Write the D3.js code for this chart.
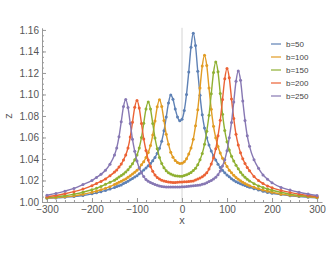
<!DOCTYPE html>
<html>
<head>
<meta charset="utf-8">
<script src="https://cdn.jsdelivr.net/npm/d3@7"></script>
<style>
  body { margin: 0; background: #fff; }
  text { font-family: "Liberation Sans", Arial, sans-serif; }
</style>
</head>
<body>
<svg id="chart" width="329" height="255"></svg>
<script>
// sample positions shared by all curves
var xs = [-300, -280, -260, -240, -220, -200, -190, -180, -170, -160,
  -150, -145, -140, -135, -130, -125, -120, -115, -110, -105,
  -100, -95, -90, -85, -80, -75, -70, -65, -60, -55,
  -50, -45, -40, -35, -30, -25, -20, -15, -10, -5,
  0, 5, 10, 15, 20, 25, 30, 35, 40, 45,
  50, 55, 60, 65, 70, 75, 80, 85, 90, 95,
  100, 105, 110, 115, 120, 125, 130, 135, 140, 145,
  150, 160, 170, 180, 190, 200, 220, 240, 260, 280, 300];

var zB50 = [1.0034, 1.0038, 1.0044, 1.0051, 1.0061, 1.0076, 1.0085, 1.0096, 1.0108, 1.0120,
  1.0134, 1.0143, 1.0151, 1.0159, 1.0171, 1.0182, 1.0193, 1.0207, 1.0219, 1.0232,
  1.0245, 1.0262, 1.0279, 1.0298, 1.0316, 1.0338, 1.0358, 1.0384, 1.0414, 1.0453,
  1.0499, 1.0566, 1.0663, 1.0790, 1.0921, 1.0995, 1.0955, 1.0865, 1.0790, 1.0755,
  1.0770, 1.0850, 1.1000, 1.1210, 1.1440, 1.1570, 1.1455, 1.1215, 1.0992, 1.0812,
  1.0689, 1.0598, 1.0529, 1.0474, 1.0429, 1.0391, 1.0351, 1.0321, 1.0295, 1.0271,
  1.0251, 1.0234, 1.0216, 1.0202, 1.0189, 1.0179, 1.0169, 1.0160, 1.0153, 1.0145,
  1.0137, 1.0124, 1.0112, 1.0100, 1.0089, 1.0081, 1.0069, 1.0058, 1.0051, 1.0044, 1.0039];

var zB100 = [1.0037, 1.0042, 1.0048, 1.0057, 1.0072, 1.0091, 1.0101, 1.0114, 1.0127, 1.0142,
  1.0163, 1.0173, 1.0183, 1.0194, 1.0204, 1.0215, 1.0230, 1.0245, 1.0260, 1.0276,
  1.0296, 1.0316, 1.0347, 1.0375, 1.0414, 1.0461, 1.0525, 1.0622, 1.0753, 1.0885,
  1.0950, 1.0887, 1.0757, 1.0630, 1.0538, 1.0462, 1.0416, 1.0387, 1.0367, 1.0359,
  1.0361, 1.0375, 1.0402, 1.0446, 1.0502, 1.0584, 1.0708, 1.0858, 1.1060, 1.1264,
  1.1364, 1.1270, 1.1059, 1.0862, 1.0704, 1.0597, 1.0516, 1.0455, 1.0407, 1.0365,
  1.0330, 1.0296, 1.0271, 1.0248, 1.0229, 1.0212, 1.0197, 1.0183, 1.0171, 1.0161,
  1.0152, 1.0137, 1.0123, 1.0111, 1.0101, 1.0091, 1.0073, 1.0062, 1.0055, 1.0049, 1.0042];

var zB150 = [1.0042, 1.0048, 1.0058, 1.0073, 1.0091, 1.0114, 1.0127, 1.0145, 1.0164, 1.0183,
  1.0203, 1.0217, 1.0232, 1.0246, 1.0261, 1.0280, 1.0299, 1.0327, 1.0355, 1.0392,
  1.0438, 1.0502, 1.0600, 1.0733, 1.0866, 1.0931, 1.0865, 1.0731, 1.0595, 1.0496,
  1.0414, 1.0358, 1.0319, 1.0291, 1.0271, 1.0260, 1.0251, 1.0243, 1.0241, 1.0240,
  1.0239, 1.0246, 1.0253, 1.0262, 1.0275, 1.0292, 1.0313, 1.0346, 1.0392, 1.0452,
  1.0536, 1.0659, 1.0807, 1.1006, 1.1204, 1.1302, 1.1211, 1.1008, 1.0817, 1.0664,
  1.0561, 1.0484, 1.0426, 1.0381, 1.0342, 1.0309, 1.0276, 1.0252, 1.0231, 1.0212,
  1.0196, 1.0170, 1.0149, 1.0134, 1.0121, 1.0109, 1.0090, 1.0073, 1.0061, 1.0054, 1.0047];

var zB200 = [1.0049, 1.0060, 1.0077, 1.0096, 1.0120, 1.0152, 1.0172, 1.0191, 1.0215, 1.0244,
  1.0278, 1.0297, 1.0325, 1.0353, 1.0391, 1.0437, 1.0502, 1.0604, 1.0741, 1.0880,
  1.0945, 1.0874, 1.0731, 1.0587, 1.0479, 1.0391, 1.0330, 1.0286, 1.0252, 1.0228,
  1.0213, 1.0203, 1.0196, 1.0191, 1.0186, 1.0183, 1.0182, 1.0182, 1.0183, 1.0185,
  1.0187, 1.0188, 1.0189, 1.0191, 1.0193, 1.0196, 1.0205, 1.0213, 1.0223, 1.0235,
  1.0250, 1.0272, 1.0306, 1.0353, 1.0412, 1.0495, 1.0615, 1.0760, 1.0953, 1.1146,
  1.1241, 1.1155, 1.0959, 1.0776, 1.0629, 1.0531, 1.0457, 1.0402, 1.0358, 1.0322,
  1.0291, 1.0237, 1.0199, 1.0172, 1.0149, 1.0132, 1.0108, 1.0089, 1.0073, 1.0060, 1.0052];

var zB250 = [1.0063, 1.0080, 1.0101, 1.0126, 1.0162, 1.0200, 1.0229, 1.0257, 1.0295, 1.0352,
  1.0437, 1.0503, 1.0606, 1.0746, 1.0887, 1.0953, 1.0879, 1.0731, 1.0583, 1.0473,
  1.0381, 1.0317, 1.0272, 1.0236, 1.0210, 1.0193, 1.0181, 1.0171, 1.0163, 1.0156,
  1.0149, 1.0145, 1.0142, 1.0140, 1.0140, 1.0140, 1.0139, 1.0139, 1.0139, 1.0140,
  1.0141, 1.0142, 1.0143, 1.0146, 1.0148, 1.0151, 1.0153, 1.0155, 1.0158, 1.0164,
  1.0169, 1.0179, 1.0190, 1.0200, 1.0214, 1.0231, 1.0254, 1.0288, 1.0335, 1.0394,
  1.0477, 1.0597, 1.0740, 1.0931, 1.1122, 1.1218, 1.1133, 1.0940, 1.0759, 1.0615,
  1.0518, 1.0392, 1.0313, 1.0252, 1.0211, 1.0179, 1.0136, 1.0111, 1.0091, 1.0074, 1.0060];

var seriesNames = ["b=50", "b=100", "b=150", "b=200", "b=250"];
var seriesValues = [zB50, zB100, zB150, zB200, zB250];
var seriesColors = ["#5e81b5", "#e19c24", "#8fb032", "#eb6235", "#8778b3"];

var xTicks = [-300, -200, -100, 0, 100, 200, 300];
var yTicks = [1.00, 1.02, 1.04, 1.06, 1.08, 1.10, 1.12, 1.14, 1.16];

var svg = d3.select("#chart");

var x = d3.scaleLinear().domain([-311, 311]).range([42, 322]);
var y = d3.scaleLinear().domain([1.0, 1.162]).range([202, 27.8]);

// faint axis through x = 0
svg.append("line")
  .attr("x1", x(0)).attr("x2", x(0))
  .attr("y1", y.range()[1]).attr("y2", y.range()[0])
  .attr("stroke", "#d4d4d4").attr("stroke-width", 1);

// minor ticks
var xMinor = d3.range(-300, 301, 20);
var yMinor = d3.range(0, 33).map(function (i) { return 1 + i * 0.005; });

svg.append("g")
  .attr("transform", "translate(0,202)")
  .call(d3.axisBottom(x).tickValues(xMinor).tickSize(-2).tickFormat(""))
  .call(function (g) { g.select(".domain").remove(); })
  .selectAll("line").attr("stroke", "#999");

svg.append("g")
  .attr("transform", "translate(42,0)")
  .call(d3.axisLeft(y).tickValues(yMinor).tickSize(-2).tickFormat(""))
  .call(function (g) { g.select(".domain").remove(); })
  .selectAll("line").attr("stroke", "#999");

// major ticks + labels
var xAxis = svg.append("g")
  .attr("transform", "translate(0,202)")
  .call(d3.axisBottom(x).tickValues(xTicks).tickSizeInner(-4).tickSizeOuter(0).tickPadding(4)
    .tickFormat(function (d) { return d < 0 ? "\u2212" + Math.abs(d) : d; }));

var yAxis = svg.append("g")
  .attr("transform", "translate(42,0)")
  .call(d3.axisLeft(y).tickValues(yTicks).tickSizeInner(-4).tickSizeOuter(0).tickPadding(3)
    .tickFormat(d3.format(".2f")));

[xAxis, yAxis].forEach(function (g) {
  g.select(".domain").attr("stroke", "#999");
  g.selectAll(".tick line").attr("stroke", "#999");
  g.selectAll("text").attr("fill", "#555").style("font-size", "10px")
    .style("font-family", "'Liberation Sans', Arial, sans-serif");
});

// curves
var line = d3.line()
  .x(function (d) { return x(d[0]); })
  .y(function (d) { return y(d[1]); })
  .curve(d3.curveMonotoneX);

seriesValues.forEach(function (vals, i) {
  var pts = xs.map(function (xv, j) { return [xv, vals[j]]; });
  var g = svg.append("g");
  g.append("path")
    .attr("d", line(pts))
    .attr("fill", "none")
    .attr("stroke", seriesColors[i])
    .attr("stroke-width", 1.4);
  g.selectAll("circle")
    .data(pts)
    .enter().append("circle")
    .attr("cx", function (d) { return x(d[0]); })
    .attr("cy", function (d) { return y(d[1]); })
    .attr("r", 1.5)
    .attr("fill", seriesColors[i]);
});

// axis titles
svg.append("text")
  .attr("x", x(0)).attr("y", 224)
  .attr("text-anchor", "middle")
  .attr("fill", "#555").style("font-size", "11px")
  .text("x");

svg.append("text")
  .attr("transform", "translate(12,116) rotate(-90)")
  .attr("text-anchor", "middle")
  .attr("fill", "#555").style("font-size", "11px")
  .text("z");

// legend
var legend = svg.append("g");
seriesNames.forEach(function (name, i) {
  var ly = 44 + i * 13;
  legend.append("line")
    .attr("x1", 271).attr("x2", 281)
    .attr("y1", ly).attr("y2", ly)
    .attr("stroke", seriesColors[i]).attr("stroke-width", 1.5)
    .attr("stroke-opacity", 0.8);
  legend.append("text")
    .attr("x", 286).attr("y", ly + 3)
    .attr("fill", "#444").style("font-size", "8px")
    .text(name);
});
</script>
</body>
</html>
